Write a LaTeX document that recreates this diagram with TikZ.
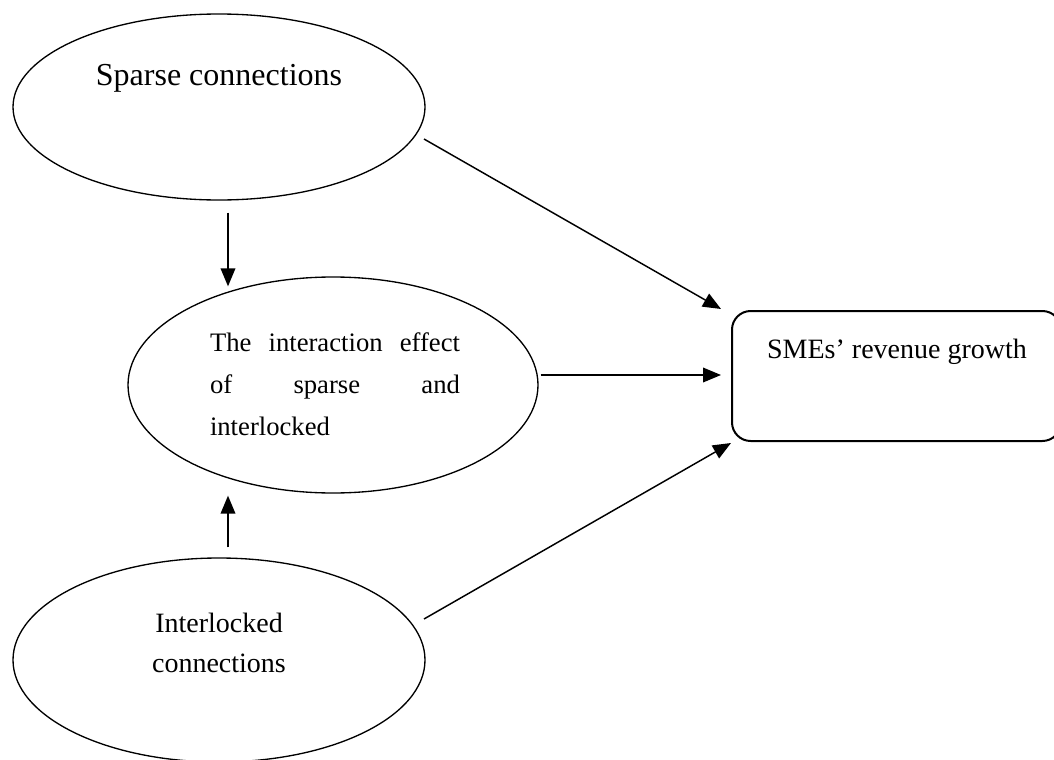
\documentclass[tikz,border=0pt]{standalone}
\usepackage{fontspec}
\setmainfont{Liberation Serif}
\usetikzlibrary{arrows.meta,shapes.geometric}
\begin{document}
\begin{tikzpicture}[x=0.75pt,y=-0.75pt,
  oval/.style={draw=black,line width=1pt,ellipse,inner sep=0pt},
  outbox/.style={draw=black,line width=1.5pt,rectangle,rounded corners=14pt,inner sep=0pt,
     minimum width=246.75pt,minimum height=97.5pt},
  lbl/.style={inner sep=0pt,outer sep=0pt},
  arr/.style={line width=1.1pt,-{Triangle[length=13.5pt,width=11pt]}}]
\useasboundingbox (0,0) rectangle (1054,760);
% ellipses
\node[oval,minimum width=309pt,minimum height=139.5pt] (sp) at (219,107) {};
\node[oval,minimum width=307.5pt,minimum height=162pt] (it) at (333,385) {};
\node[oval,minimum width=309pt,minimum height=153pt] (il) at (219,660) {};
\node[outbox] (box) at (896.5,376) {};
% texts
\node[lbl,anchor=base,font=\fontsize{24}{29}\selectfont] (spt) at (219,85) {Sparse connections};
\node[lbl,anchor=base west,align=left,font=\fontsize{20}{31.5}\selectfont] (itt) at (210,435)
  {\makebox[187.5pt][s]{The interaction effect}\\\makebox[187.5pt][s]{of sparse and}\\interlocked};
\node[lbl,anchor=base,align=center,font=\fontsize{21}{30}\selectfont] (ilt) at (219,672)
  {Interlocked\\connections};
\node[lbl,anchor=base,font=\fontsize{21}{25}\selectfont] (boxt) at (897,358) {SMEs’ revenue growth};
% connectors
\draw[arr] ([shift={(205,32)}]sp.center) -- ([shift={(-10,-1)}]box.north west);
\draw[arr] ([shift={(2,-10)}]it.east) -- ([shift={(-10,-1)}]box.west);
\draw[arr] ([shift={(205,-41)}]il.center) -- ([shift={(0,1)}]box.south west);
\draw[arr] ([shift={(9,12)}]sp.south) -- ([shift={(-105,10)}]it.north);
\draw[arr] ([shift={(9,-10)}]il.north) -- ([shift={(-105,2)}]it.south);
\end{tikzpicture}
\end{document}
